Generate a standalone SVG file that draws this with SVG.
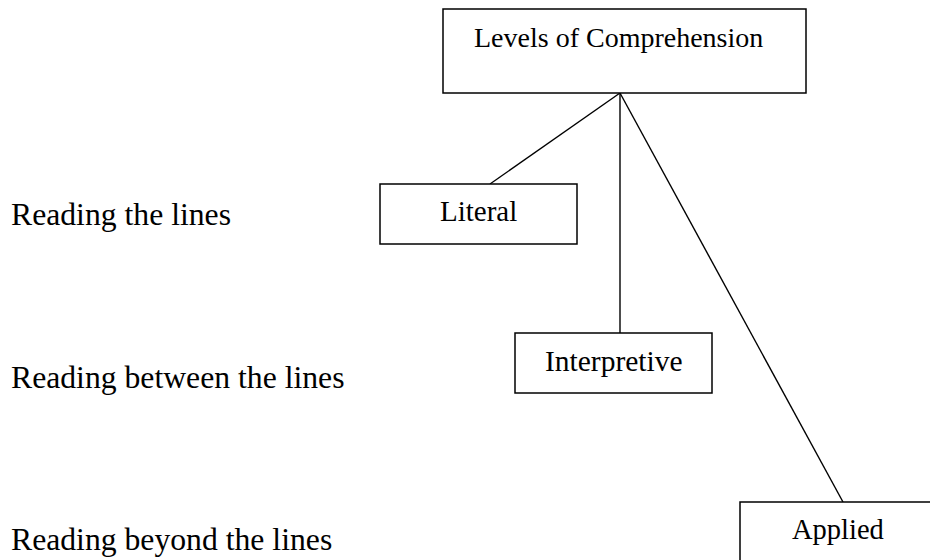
<svg xmlns="http://www.w3.org/2000/svg" width="930" height="560" viewBox="0 0 930 560">
<style>
.box{fill:#fff;stroke:#000;stroke-width:1.5}
.t{font-family:"Liberation Serif","Times New Roman",serif;fill:#000}
.c{stroke:#000;stroke-width:1.4;fill:none}
</style>
<rect width="930" height="560" fill="#fff"/>
<g id="connectors">
<line class="c" x1="620" y1="93" x2="490" y2="184"/>
<line class="c" x1="620" y1="93" x2="620" y2="333"/>
<line class="c" x1="620" y1="93" x2="843" y2="502"/>
</g>
<g id="node-levels">
<rect class="box" x="443" y="9" width="363" height="84"/>
<text class="t" x="474" y="47" font-size="28">Levels of Comprehension</text>
</g>
<g id="node-literal">
<rect class="box" x="380" y="184" width="197" height="60"/>
<text class="t" x="440" y="221" font-size="29">Literal</text>
</g>
<g id="node-interpretive">
<rect class="box" x="515" y="333" width="197" height="60"/>
<text class="t" x="545" y="371" font-size="29.5">Interpretive</text>
</g>
<g id="node-applied">
<rect class="box" x="740" y="502" width="197" height="70"/>
<text class="t" x="792" y="539" font-size="28.5">Applied</text>
</g>
<g id="labels">
<text class="t" x="11" y="225" font-size="31.7">Reading the lines</text>
<text class="t" x="11" y="388" font-size="31.7">Reading between the lines</text>
<text class="t" x="11" y="550" font-size="31.7">Reading beyond the lines</text>
</g>
</svg>
